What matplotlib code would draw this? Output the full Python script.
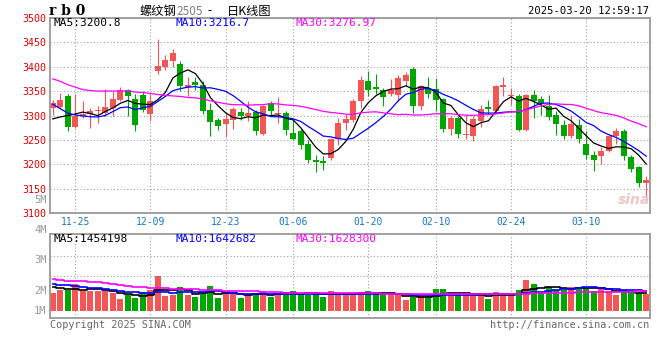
import matplotlib
matplotlib.use("Agg")
import matplotlib.pyplot as plt
import numpy as np
import pandas as pd

W, H = 660, 360

# trading days on the chart (exchange shut for new year and spring festival)
days = pd.bdate_range("2024-11-20", "2025-03-20")
closed = pd.to_datetime(["2025-01-01", "2025-01-28", "2025-01-29", "2025-01-30",
                         "2025-01-31", "2025-02-03", "2025-02-04"])
days = days[~days.isin(closed)]
date_labels = ["11-25", "12-09", "12-23", "01-06", "01-20", "02-10", "02-24", "03-10"]

opens = [3316, 3318, 3339, 3276, 3298, 3304, 3310, 3305, 3315, 3332,
         3353, 3334, 3341, 3304, 3390, 3400, 3412, 3405, 3359, 3368,
         3362, 3312, 3290, 3282, 3290, 3307, 3298, 3307, 3263, 3326,
         3304, 3305, 3265, 3269, 3241, 3208, 3206, 3214, 3251, 3284,
         3290, 3329, 3371, 3358, 3352, 3344, 3341, 3370, 3396, 3319,
         3356, 3355, 3333, 3273, 3295, 3260, 3258, 3288, 3318, 3310,
         3358, 3339, 3339, 3271, 3341, 3333, 3319, 3300, 3280, 3258,
         3280, 3241, 3220, 3217, 3228, 3258, 3269, 3216, 3195, 3161]
highs = [3332, 3346, 3344, 3344, 3330, 3315, 3320, 3354, 3350, 3358,
         3355, 3343, 3351, 3343, 3457, 3424, 3436, 3412, 3378, 3378,
         3370, 3326, 3295, 3305, 3317, 3315, 3330, 3312, 3321, 3329,
         3337, 3310, 3290, 3273, 3249, 3219, 3217, 3254, 3295, 3303,
         3333, 3380, 3392, 3385, 3356, 3375, 3383, 3389, 3399, 3363,
         3378, 3377, 3336, 3299, 3299, 3302, 3299, 3321, 3331, 3363,
         3378, 3356, 3344, 3344, 3353, 3339, 3341, 3309, 3290, 3301,
         3292, 3268, 3227, 3235, 3261, 3275, 3273, 3219, 3197, 3176]
lows = [3302, 3315, 3268, 3274, 3295, 3275, 3284, 3298, 3298, 3329,
        3298, 3268, 3307, 3288, 3385, 3394, 3400, 3350, 3339, 3353,
        3303, 3258, 3271, 3256, 3273, 3290, 3288, 3260, 3261, 3300,
        3285, 3260, 3249, 3231, 3202, 3185, 3188, 3208, 3240, 3270,
        3287, 3316, 3339, 3343, 3319, 3339, 3329, 3360, 3305, 3312,
        3336, 3310, 3267, 3260, 3253, 3251, 3248, 3276, 3303, 3305,
        3339, 3321, 3268, 3268, 3295, 3301, 3290, 3260, 3251, 3253,
        3244, 3212, 3187, 3200, 3226, 3241, 3208, 3185, 3154, 3132]
closes = [3325, 3332, 3276, 3298, 3304, 3310, 3311, 3318, 3334, 3352,
          3339, 3280, 3311, 3330, 3402, 3414, 3428, 3360, 3363, 3363,
          3310, 3286, 3278, 3292, 3314, 3298, 3305, 3268, 3319, 3309,
          3305, 3271, 3251, 3240, 3210, 3205, 3202, 3251, 3284, 3292,
          3329, 3373, 3353, 3354, 3337, 3353, 3377, 3383, 3319, 3360,
          3344, 3331, 3273, 3295, 3263, 3263, 3292, 3314, 3314, 3360,
          3362, 3341, 3271, 3341, 3329, 3326, 3297, 3282, 3258, 3283,
          3251, 3219, 3208, 3227, 3258, 3268, 3217, 3190, 3161, 3168]
# volume in millions of lots
volumes = [1.48, 1.69, 1.75, 2.19, 1.61, 1.64, 1.64, 1.64, 1.48, 0.96,
           1.28, 1.07, 1.53, 1.75, 2.84, 1.23, 1.31, 1.97, 1.28, 1.15,
           1.48, 2.05, 1.07, 1.48, 1.37, 1.07, 1.37, 1.48, 1.61, 1.15,
           1.48, 1.53, 1.61, 1.28, 1.28, 1.48, 1.15, 1.61, 1.28, 1.28,
           1.48, 1.56, 1.64, 1.42, 1.37, 1.37, 1.28, 0.87, 1.15, 1.20,
           1.20, 1.78, 1.78, 1.28, 1.28, 1.37, 1.37, 1.37, 0.96, 1.53,
           1.37, 1.37, 1.69, 2.51, 2.24, 1.53, 1.97, 1.75, 1.75, 1.97,
           1.97, 1.97, 1.64, 1.83, 1.64, 1.28, 1.69, 1.48, 1.48, 1.37]

# moving-average values before enough history is on screen
ma5_head = [3293, 3297, 3300, 3303]
ma10_head = [3323, 3314, 3305, 3301, 3299, 3297.5, 3297, 3300, 3308]
ma30_head = [3375, 3370, 3363, 3358, 3353, 3351, 3350, 3350, 3350, 3350,
             3350, 3348, 3347, 3345, 3343, 3341, 3340, 3339, 3337, 3336,
             3334, 3330, 3327, 3324, 3322, 3322, 3321, 3322, 3322]
vma5_head = [1.97, 1.90, 1.84, 1.79]
vma10_head = [2.19, 2.15, 2.10, 2.05, 1.98, 1.92, 1.85, 1.78, 1.70]
vma30_head = [2.60, 2.55, 2.50, 2.45, 2.42, 2.40, 2.37, 2.30, 2.22, 2.15,
              2.07, 2.00, 1.93, 1.90, 1.88, 1.86, 1.84, 1.82, 1.80, 1.78,
              1.75, 1.73, 1.71, 1.68, 1.66, 1.64, 1.62, 1.60, 1.58]

RED = "#f45555"
GREEN = "#00a600"
GRIDC = "#a0a0a0"
FRAME = "#999999"
MONO = "DejaVu Sans Mono"


def moving(vals, n, head):
    s = pd.Series(vals, dtype=float).rolling(n).mean()
    s.iloc[:n - 1] = head
    return s.values


def box(l, t, r, b):
    return [l / W, 1 - b / H, (r - l) / W, (b - t) / H]


def ftext(x, y, s, **kw):
    fig.text(x / W, 1 - y / H, s, **kw)


o = np.array(opens, float)
c = np.array(closes, float)
x = np.arange(len(days))
cols = np.where(c >= o, RED, GREEN)
tick_pos = [list(days.strftime("%m-%d")).index(d) for d in date_labels]
XLIM = (-0.36, 79.5)

fig = plt.figure(figsize=(W / 100, H / 100), dpi=100)
ax = fig.add_axes(box(50, 17.7, 650, 213.3))
axv = fig.add_axes(box(50, 234.3, 650, 318.3))

# price panel
ax.vlines(x, lows, highs, colors=cols, lw=0.8)
ax.bar(x, np.maximum(np.abs(c - o), 1.3), bottom=np.minimum(o, c), width=0.8,
       color=cols, linewidth=0)
ax.plot(x, moving(c, 5, ma5_head), color="black", lw=0.9)
ax.plot(x, moving(c, 10, ma10_head), color="#0000ff", lw=0.9)
ax.plot(x, moving(c, 30, ma30_head), color="#ff00ff", lw=0.9)
ax.set_xlim(*XLIM)
ax.set_ylim(3102, 3500)
ax.set_yticks(range(3100, 3501, 50))
ax.set_xticks(tick_pos)
ax.set_xticklabels(date_labels)
ax.tick_params(axis="y", length=0, pad=3, labelsize=7.2, labelcolor="#e00000")
ax.tick_params(axis="x", length=0, pad=2.5, labelsize=7, labelcolor="#1478cc")
for t in ax.get_xticklabels() + ax.get_yticklabels():
    t.set_fontfamily(MONO)
ax.grid(True, color=GRIDC, lw=0.8, linestyle=(0, (1, 2)))

# volume panel
axv.bar(x, volumes, width=0.8, color=cols, linewidth=0)
axv.plot(x, moving(volumes, 5, vma5_head), color="black", lw=1.2, drawstyle="steps-mid")
axv.plot(x, moving(volumes, 10, vma10_head), color="#0000ff", lw=1.2, drawstyle="steps-mid")
axv.plot(x, moving(volumes, 30, vma30_head), color="#ff00ff", lw=1.2, drawstyle="steps-mid")
axv.set_xlim(*XLIM)
axv.set_ylim(-0.6, 6.29)
axv.set_xticks(tick_pos)
axv.set_xticklabels([])
axv.set_yticks([2.87, 4.51])
axv.set_yticklabels([])
axv.tick_params(length=0)
axv.grid(True, color=GRIDC, lw=0.8, linestyle=(0, (1, 2)))

for a in (ax, axv):
    a.set_axisbelow(True)
    for sp in a.spines.values():
        sp.set_color(FRAME)
        sp.set_linewidth(1.3)

# header
ftext(49, 11, "r b 0", family="DejaVu Serif", weight="bold", size=10, va="center")
cjk = ["Noto Sans CJK SC", "DejaVu Sans"]
ftext(140, 11, "螺纹钢", family=cjk, size=8.8, va="center")
ftext(176.5, 11.5, "2505", family=cjk, size=8.5, color="#808080", va="center")
ftext(207, 11, "-", family=cjk, size=8.8, va="center")
ftext(227, 11, "日K线图", family=cjk, size=8.8, va="center")
ftext(649, 11.5, "2025-03-20 12:59:17", family=MONO, size=7.6, ha="right", va="center")

ftext(54, 23.5, "MA5:3200.8", family=MONO, size=8, color="black", va="center")
ftext(175, 23.5, "MA10:3216.7", family=MONO, size=8, color="#0000ff", va="center")
ftext(295, 23.5, "MA30:3276.97", family=MONO, size=8, color="#ff00ff", va="center")
ftext(54, 239, "MA5:1454198", family=MONO, size=8, color="black", va="center")
ftext(175, 239, "MA10:1642682", family=MONO, size=8, color="#0000ff", va="center")
ftext(295, 239, "MA30:1628300", family=MONO, size=8, color="#ff00ff", va="center")

# volume scale labels as the source draws them
for lab, yy in (("5M", 200), ("4M", 230), ("3M", 260), ("2M", 291), ("1M", 311)):
    ftext(46.5, yy, lab, family=MONO, size=7.5, color="#999999", ha="right", va="center")

ftext(634, 200, "sina", family="DejaVu Sans", size=10, style="italic", weight="bold",
      color="#f2c4c4", ha="center", va="center")

ftext(50, 324.5, "Copyright 2025 SINA.COM", family=MONO, size=7.3, color="#666666", va="center")
ftext(649, 324.5, "http://finance.sina.com.cn", family=MONO, size=7.3, color="#666666",
      ha="right", va="center")

fig.savefig("out.png", dpi=100)
